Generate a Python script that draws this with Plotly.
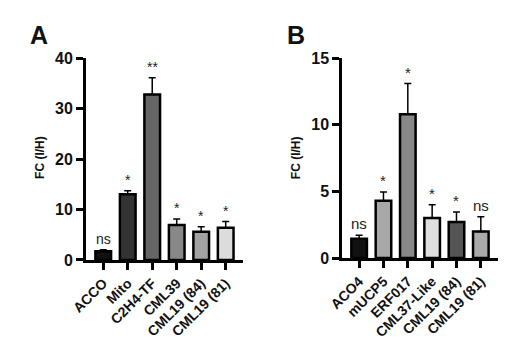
import plotly.graph_objects as go

# Panel A data
cats_a = ["ACCO", "Mito", "C2H4-TF", "CML39", "CML19 (84)", "CML19 (81)"]
vals_a = [1.7, 13.0, 32.8, 6.9, 5.6, 6.4]
err_a = [0.3, 0.7, 3.3, 1.2, 1.0, 1.2]
sig_a = ["ns", "*", "**", "*", "*", "*"]
cols_a = ["#111111", "#333333", "#666666", "#888888", "#a2a2a2", "#dcdcdc"]

# Panel B data
cats_b = ["ACO4", "mUCP5", "ERF017", "CML37-Like", "CML19 (84)", "CML19 (81)"]
vals_b = [1.45, 4.3, 10.8, 3.0, 2.7, 2.0]
err_b = [0.25, 0.65, 2.3, 1.0, 0.75, 1.1]
sig_b = ["ns", "*", "*", "*", "*", "ns"]
cols_b = ["#111111", "#a8a8a8", "#888888", "#dedede", "#555555", "#aaaaaa"]

FONT = "Arial, Liberation Sans, sans-serif"

fig = go.Figure()

def add_panel(cats, vals, errs, cols, xa, ya):
    fig.add_trace(go.Bar(
        x=cats, y=vals, xaxis=xa, yaxis=ya,
        marker=dict(color=cols, line=dict(color="black", width=2.5)),
        width=0.64,
        error_y=dict(type="data", symmetric=False, array=errs,
                     arrayminus=[0] * len(errs), color="black",
                     thickness=1.5, width=3.5),
        showlegend=False,
    ))

add_panel(cats_a, vals_a, err_a, cols_a, "x", "y")
add_panel(cats_b, vals_b, err_b, cols_b, "x2", "y2")

axis_common = dict(showline=True, linecolor="black", linewidth=2.5,
                   ticks="outside", tickcolor="black", tickwidth=2.5,
                   ticklen=7, showgrid=False, zeroline=False)

xfont = dict(family=FONT, size=14, color="#111", weight="bold")
yfont = dict(family=FONT, size=16, color="#111", weight="bold")

fig.update_layout(
    width=510, height=340,
    margin=dict(l=0, r=0, t=0, b=0),
    paper_bgcolor="white", plot_bgcolor="white",
    xaxis=dict(domain=[73 / 510, 235 / 510], anchor="y",
               range=[-0.71, 5.71], tickangle=-45, tickfont=xfont,
               **axis_common),
    yaxis=dict(domain=[(340 - 266) / 340, (340 - 53) / 340], anchor="x",
               range=[0, 40], tickvals=[0, 10, 20, 30, 40], tickfont=yfont,
               **axis_common),
    xaxis2=dict(domain=[337 / 510, 498 / 510], anchor="y2",
                range=[-0.7, 5.72], tickangle=-45, tickfont=xfont,
                **axis_common),
    yaxis2=dict(domain=[(340 - 264) / 340, (340 - 53) / 340], anchor="x2",
                range=[0, 15], tickvals=[0, 5, 10, 15], tickfont=yfont,
                **axis_common),
)

annots = []
for cats, vals, errs, sigs, xr, yr, fs in [
    (cats_a, vals_a, err_a, sig_a, "x", "y", 14),
    (cats_b, vals_b, err_b, sig_b, "x2", "y2", 15),
]:
    for c, v, e, s in zip(cats, vals, errs, sigs):
        annots.append(dict(x=c, y=v + e, xref=xr, yref=yr, text=s,
                           showarrow=False, yanchor="bottom", yshift=1,
                           font=dict(family=FONT, size=fs, color="#222")))

annots += [
    dict(x=25 / 510, y=(340 - 158) / 340, xref="paper", yref="paper",
         text="<b>FC (I/H)</b>", textangle=-90, showarrow=False,
         xanchor="center", yanchor="middle",
         font=dict(family=FONT, size=12, color="#111")),
    dict(x=289 / 510, y=(340 - 158) / 340, xref="paper", yref="paper",
         text="<b>FC (I/H)</b>", textangle=-90, showarrow=False,
         xanchor="center", yanchor="middle",
         font=dict(family=FONT, size=12, color="#111")),
    dict(x=25 / 510, y=(340 - 29) / 340, xref="paper", yref="paper",
         text="<b>A</b>", showarrow=False, xanchor="center", yanchor="middle",
         font=dict(family=FONT, size=25, color="#111")),
    dict(x=289 / 510, y=(340 - 29) / 340, xref="paper", yref="paper",
         text="<b>B</b>", showarrow=False, xanchor="center", yanchor="middle",
         font=dict(family=FONT, size=25, color="#111")),
]
fig.update_layout(annotations=annots)

fig.write_html("out.html")
